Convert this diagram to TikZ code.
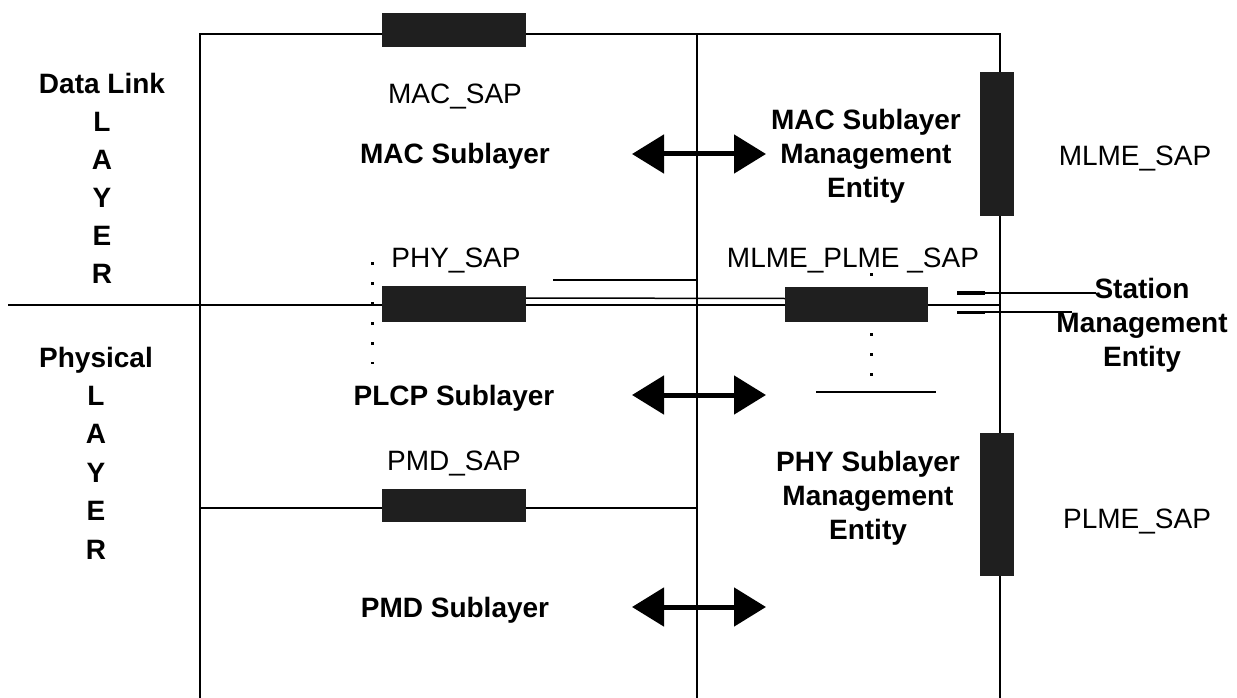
\documentclass[tikz,border=0pt]{standalone}
\usepackage{fontspec}
\setmainfont{Liberation Sans}
\usetikzlibrary{arrows.meta}
\begin{document}
\begin{tikzpicture}[x=1pt,y=-1pt,
  hbar/.style={fill=black!88, minimum width=144pt, minimum height=34pt, inner sep=0pt},
  vbar/.style={fill=black!88, minimum width=34pt, minimum height=143pt, inner sep=0pt},
  lbl/.style={font=\fontsize{28}{34}\selectfont, inner sep=0pt, anchor=base},
  blbl/.style={font=\bfseries\fontsize{28}{34}\selectfont, inner sep=0pt, anchor=base},
  mlbl/.style={font=\bfseries\fontsize{28}{34}\selectfont, inner sep=0pt, align=center},
  collbl/.style={font=\bfseries\fontsize{28}{38}\selectfont, inner sep=0pt, align=center},
  framel/.style={line width=2.5pt},
  thinl/.style={line width=1.5pt},
  dotl/.style={line width=3pt, dash pattern=on 3pt off 17pt},
  dblarrow/.style={line width=5pt, {Triangle[length=32pt,width=38pt]}-{Triangle[length=32pt,width=38pt]}},
]
\useasboundingbox (0,0) rectangle (1237,698);

% frame coordinates
\coordinate (tl) at (200,34);
\coordinate (tr) at (1000,34);
\coordinate (bl) at (200,698);
\coordinate (br) at (1000,698);
\coordinate (dt) at (697,34);
\coordinate (db) at (697,698);
\coordinate (pmdl) at (200,508);
\coordinate (pmdr) at (697,508);
\coordinate (hl) at (8,305);
\coordinate (hr) at (1000,305);
\coordinate (f1) at (553,280);
\coordinate (f2) at (697,280);
\coordinate (d1a) at (372,262);
\coordinate (d1b) at (372,364);
\coordinate (d2a) at (871,273);
\coordinate (d2b) at (871,376);
\coordinate (g1) at (816,392);
\coordinate (g2) at (936,392);

% frame and layer lines
\draw[framel] (bl) -- (tl) -- (tr) -- (br);
\draw[thinl] (dt) -- (db);
\draw[thinl] (pmdl) -- (pmdr);
\draw[thinl] (hl) -- (hr);
\draw[thinl] (f1) -- (f2);
\draw[dotl] (d1a) -- (d1b);
\draw[dotl] (d2a) -- (d2b);
\draw[thinl] (g1) -- (g2);

% service access point bars
\node[hbar] (macsap) at (454,30.5) {};
\node[vbar] (mlmesap) at (997,144) {};
\node[vbar] (plmesap) at (997,504.5) {};
\node[hbar, minimum height=36pt] (physap) at (454,304) {};
\node[hbar, minimum width=143pt, minimum height=35pt] (mpsap) at (856.5,304.5) {};
\node[hbar, minimum height=33pt] (pmdsap) at (454,505.5) {};

% link between PHY_SAP and MLME_PLME_SAP
\draw[thinl] ([yshift=6pt]physap.east) -- ([yshift=6pt]mpsap.west);

% labels
\node[lbl] (macsapl) at (455,104) {MAC\_SAP};
\node[blbl] (macsub) at (455,164) {MAC Sublayer};
\node[mlbl] (macme) at (866,156) {MAC Sublayer\\Management\\Entity};
\node[lbl] (mlmesapl) at (1135,165) {MLME\_SAP};
\node[lbl] (physapl) at (456,267) {PHY\_SAP};
\node[lbl] (mpsapl) at (853,267) {MLME\_PLME \_SAP};
\node[mlbl] (sme) at (1142,325) {Station\\Management\\Entity};
\node[blbl] (plcp) at (454,405) {PLCP Sublayer};
\node[lbl] (pmdsapl) at (454,470) {PMD\_SAP};
\node[mlbl] (phyme) at (868,498) {PHY Sublayer\\Management\\Entity};
\node[lbl] (plmesapl) at (1137,528) {PLME\_SAP};
\node[blbl] (pmdsub) at (455,617) {PMD Sublayer};
\node[collbl] (dll) at (102,178) {Data Link\\L\\A\\Y\\E\\R};
\node[collbl, font=\bfseries\fontsize{28}{38.4}\selectfont] (phl) at (96,453) {Physical\\L\\A\\Y\\E\\R};

% links from MLME_PLME_SAP to station management entity
\coordinate (s1a) at ([xshift=29pt,yshift=11.5pt]mpsap.east);
\coordinate (s2a) at ([xshift=29pt,yshift=-7.5pt]mpsap.east);
\draw[thinl] (s1a) -- (s1a -| sme.west) -- ++(40,0);
\draw[thinl] (s2a) -- (s2a -| sme.west) -- ++(16,0);
\draw[line width=4pt] (s1a) -- ++(28,0);
\draw[line width=3pt] (s2a) -- ++(28,0);

% double arrows
\coordinate (a1l) at (632,154);
\coordinate (a1r) at (766,154);
\coordinate (a2l) at (632,395);
\coordinate (a2r) at (766,395);
\coordinate (a3l) at (632,607);
\coordinate (a3r) at (766,607);
\draw[dblarrow] (a1l) -- (a1r);
\draw[dblarrow] (a2l) -- (a2r);
\draw[dblarrow] (a3l) -- (a3r);
\end{tikzpicture}
\end{document}
